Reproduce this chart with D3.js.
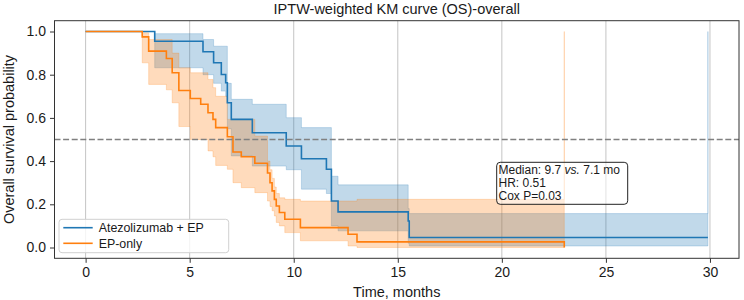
<!DOCTYPE html>
<html>
<head>
<meta charset="utf-8">
<script src="https://cdn.jsdelivr.net/npm/d3@7"></script>
<style>
  body { margin: 0; background: #fff; }
  svg text { font-family: "Liberation Sans", Arial, sans-serif; fill: #1a1a1a; }
</style>
</head>
<body>
<div id="chart"></div>
<script>
/* IPTW-weighted KM curve, overall survival, two arms with CI bands. */

const title = "IPTW-weighted KM curve (OS)-overall";
const xTicks = [0, 5, 10, 15, 20, 25, 30];
const yTicks = [0, 0.2, 0.4, 0.6, 0.8, 1.0];

// Atezolizumab + EP
const atezoTime  = [0, 3.32, 5.64, 6.15, 6.52, 6.73, 6.81, 7.0, 8.01, 9.64, 10.37, 11.57, 11.81, 12.13, 15.5, 15.55, 29.9];
const atezoSurv  = [1, 0.955, 0.906, 0.855, 0.801, 0.763, 0.67, 0.593, 0.531, 0.47, 0.411, 0.362, 0.215, 0.165, 0.123, 0.046, 0.046];
const atezoLower = [1, 0.832, 0.80, 0.76, 0.724, 0.70, 0.55, 0.424, 0.377, 0.36, 0.27, 0.25, 0.10, 0.077, 0.02, 0.007, 0.007];
const atezoUpper = [1, 0.99, 0.963, 0.932, 0.932, 0.932, 0.76, 0.686, 0.663, 0.601, 0.555, 0.555, 0.33, 0.29, 0.18, 0.157, 1.0];

// EP-only
const epTime  = [0, 2.72, 3.03, 3.88, 4.16, 4.48, 5.03, 5.53, 5.88, 6.12, 6.25, 6.81, 7.08, 7.48, 8.13, 8.74, 8.86, 8.96, 9.07, 9.16, 9.31, 9.57, 10.32, 12.61, 13.04, 23.0];
const epSurv  = [1, 0.975, 0.909, 0.875, 0.809, 0.727, 0.69, 0.663, 0.624, 0.593, 0.555, 0.513, 0.442, 0.42, 0.39, 0.345, 0.30, 0.262, 0.223, 0.192, 0.162, 0.131, 0.092, 0.061, 0.026, 0.0];
const epLower = [1, 0.855, 0.755, 0.73, 0.67, 0.56, 0.50, 0.50, 0.447, 0.42, 0.38, 0.362, 0.30, 0.277, 0.254, 0.215, 0.19, 0.17, 0.146, 0.116, 0.10, 0.069, 0.031, 0.007, 0.0, 0.0];
const epUpper = [1, 0.994, 0.963, 0.963, 0.90, 0.832, 0.809, 0.809, 0.778, 0.74, 0.70, 0.593, 0.593, 0.593, 0.516, 0.40, 0.36, 0.32, 0.28, 0.25, 0.23, 0.223, 0.215, 0.215, 0.223, 1.0];

const groups = [
    {name: "Atezolizumab + EP", color: "#1f77b4", time: atezoTime, surv: atezoSurv, lower: atezoLower, upper: atezoUpper},
    {name: "EP-only", color: "#ff7f0e", time: epTime, surv: epSurv, lower: epLower, upper: epUpper}
];

const annotLines = ["Median: 9.7 vs. 7.1 mo", "HR: 0.51", "Cox P=0.03"];

const width = 744,
      height = 300,
      margin = ({top: 20.7, right: 5, bottom: 41.7, left: 54.5});

let svg = d3.select("#chart")
            .append("svg")
            .attr("width", width)
            .attr("height", height)
            .attr("viewBox", [0, 0, width, height]);

const x = d3.scaleLinear()
            .domain([-1.495, 31.395])
            .range([margin.left, width - margin.right]);

const y = d3.scaleLinear()
            .domain([-0.05, 1.05])
            .range([height - margin.bottom, margin.top]);

// vertical grid only
svg.append("g")
    .selectAll("line")
    .data(xTicks)
    .join("line")
    .attr("x1", d => x(d)).attr("x2", d => x(d))
    .attr("y1", margin.top).attr("y2", height - margin.bottom)
    .attr("stroke", "#c4c4c4")
    .attr("stroke-width", 1);

const area = d3.area()
    .curve(d3.curveStepAfter)
    .x(d => x(d.t))
    .y0(d => y(d.lo))
    .y1(d => y(d.hi));

const line = d3.line()
    .curve(d3.curveStepAfter)
    .x(d => x(d.t))
    .y(d => y(d.s));

for (let g of groups) {
    g.pts = g.time.map((t, i) => ({t: t, s: g.surv[i], lo: g.lower[i], hi: g.upper[i]}));
}

// bands first, then the curves on top
for (let g of groups) {
    svg.append("path")
        .datum(g.pts)
        .attr("d", area)
        .attr("fill", g.color)
        .attr("fill-opacity", 0.28)
        .attr("stroke", g.color)
        .attr("stroke-opacity", 0.22)
        .attr("stroke-width", 1);
}

for (let g of groups) {
    svg.append("path")
        .datum(g.pts)
        .attr("d", line)
        .attr("fill", "none")
        .attr("stroke", g.color)
        .attr("stroke-width", 1.6);
}

// median reference line
svg.append("line")
    .attr("x1", margin.left).attr("x2", width - margin.right)
    .attr("y1", y(0.5)).attr("y2", y(0.5))
    .attr("stroke", "#808080")
    .attr("stroke-width", 1.5)
    .attr("stroke-dasharray", "6,2.6");

// axes
const xAxis = g => g
    .attr("transform", `translate(0,${height - margin.bottom})`)
    .call(d3.axisBottom(x).tickValues(xTicks).tickSize(4.5).tickPadding(4).tickFormat(d3.format("d")))
    .call(g => g.select(".domain").remove());

const yAxis = g => g
    .attr("transform", `translate(${margin.left},0)`)
    .call(d3.axisLeft(y).tickValues(yTicks).tickSize(4.5).tickPadding(4).tickFormat(d3.format(".1f")))
    .call(g => g.select(".domain").remove());

svg.append("g").call(xAxis);
svg.append("g").call(yAxis);

svg.selectAll(".tick line").attr("stroke", "#333");
svg.selectAll(".tick text")
    .style("font-family", '"Liberation Sans", Arial, sans-serif')
    .style("font-size", "14px")
    .attr("fill", "#1a1a1a");

// frame
svg.append("rect")
    .attr("x", margin.left).attr("y", margin.top)
    .attr("width", width - margin.left - margin.right)
    .attr("height", height - margin.top - margin.bottom)
    .attr("fill", "none")
    .attr("stroke", "#333")
    .attr("stroke-width", 1);

// title and labels
svg.append("text")
    .attr("x", (margin.left + width - margin.right) / 2)
    .attr("y", 13.5)
    .attr("text-anchor", "middle")
    .style("font-size", "14.5px")
    .text(title);

svg.append("text")
    .attr("x", (margin.left + width - margin.right) / 2)
    .attr("y", 297)
    .attr("text-anchor", "middle")
    .style("font-size", "14.5px")
    .text("Time, months");

svg.append("text")
    .attr("transform", `translate(13.5,${(margin.top + height - margin.bottom) / 2}) rotate(-90)`)
    .attr("text-anchor", "middle")
    .style("font-size", "14.5px")
    .text("Overall survival probability");

// legend
let legend = svg.append("g");
legend.append("rect")
    .attr("x", 59).attr("y", 219.3)
    .attr("width", 169.7).attr("height", 33.4)
    .attr("rx", 3)
    .attr("fill", "#fff").attr("fill-opacity", 0.8)
    .attr("stroke", "#d0d0d0");

let item = legend.selectAll(".item")
    .data(groups)
    .join("g")
    .attr("class", "item")
    .attr("transform", (d, i) => `translate(0,${227.7 + i * 15.6})`);

item.append("line")
    .attr("x1", 63.3).attr("x2", 92.7)
    .attr("stroke", d => d.color)
    .attr("stroke-width", 1.6);

item.append("text")
    .attr("x", 98.7)
    .attr("dy", "0.35em")
    .style("font-size", "12.4px")
    .text(d => d.name);

// annotation box
let note = svg.append("g");
note.append("rect")
    .attr("x", 496.7).attr("y", 162.3)
    .attr("width", 131).attr("height", 42)
    .attr("rx", 3.5)
    .attr("fill", "#fff").attr("fill-opacity", 0.5)
    .attr("stroke", "#222")
    .attr("stroke-width", 1);

let noteText = note.append("text")
    .style("font-size", "12px");

noteText.append("tspan").attr("x", 498.5).attr("y", 174.4).text("Median: 9.7 ");
noteText.append("tspan").style("font-style", "italic").text("vs.");
noteText.append("tspan").text(" 7.1 mo");
noteText.append("tspan").attr("x", 498.5).attr("y", 187.2).text(annotLines[1]);
noteText.append("tspan").attr("x", 498.5).attr("y", 200).text(annotLines[2]);
</script>
</body>
</html>
